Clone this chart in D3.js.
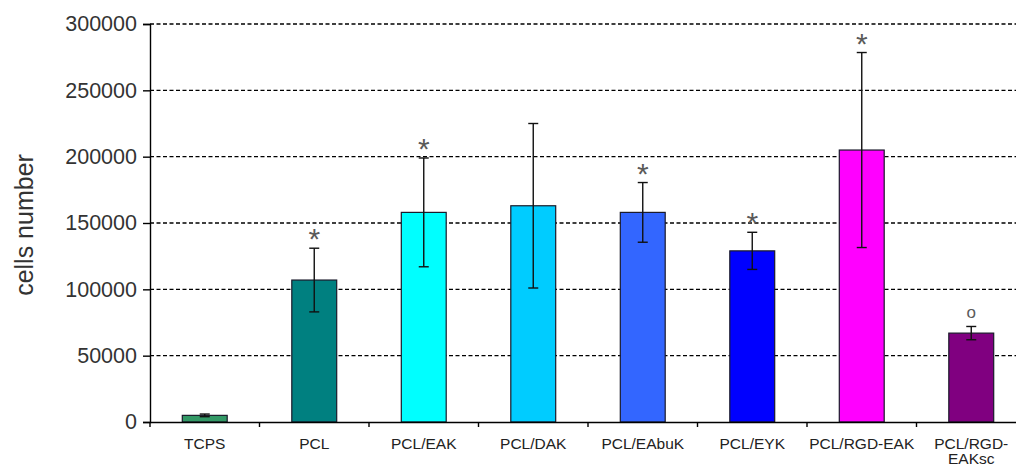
<!DOCTYPE html>
<html>
<head>
<meta charset="utf-8">
<script src="https://cdn.jsdelivr.net/npm/d3@7"></script>
<style>
  html, body { margin: 0; padding: 0; background: #fff; }
  svg { display: block; font-family: "Liberation Sans", Arial, sans-serif; }
</style>
</head>
<body>
<svg id="chart" width="1016" height="467"></svg>
<script>
// Cell counts per substrate (mean ± SD)
const categories = ["TCPS", "PCL", "PCL/EAK", "PCL/DAK", "PCL/EAbuK", "PCL/EYK", "PCL/RGD-EAK", "PCL/RGD-EAKsc"];
const means      = [5000, 107000, 158000, 163000, 158000, 129000, 205000, 67000];
const errors     = [1000, 24000, 41000, 62000, 22500, 14000, 73500, 5000];
const markers    = ["", "*", "*", "", "*", "*", "*", "o"];
const colors     = ["#339966", "#008080", "#00ffff", "#00ccff", "#3366ff", "#0000ff", "#ff00ff", "#800080"];
const yTicks     = [0, 50000, 100000, 150000, 200000, 250000, 300000];

const svg = d3.select("#chart");
const plotLeft = 150, plotRight = 1026, plotTop = 24, plotBottom = 422;

const x = d3.scaleBand().domain(categories).range([plotLeft, plotRight]).paddingInner(0).paddingOuter(0);
const y = d3.scaleLinear().domain([0, 300000]).range([plotBottom, plotTop]);
const barW = x.bandwidth() * 0.41;

// dashed gridlines
svg.append("g")
  .selectAll("line")
  .data(yTicks.filter(d => d > 0))
  .join("line")
  .attr("x1", plotLeft).attr("x2", plotRight)
  .attr("y1", d => y(d)).attr("y2", d => y(d))
  .attr("stroke", "#000").attr("stroke-width", 1.3)
  .attr("stroke-dasharray", "4,2.5");

// bars
svg.append("g")
  .selectAll("rect")
  .data(categories)
  .join("rect")
  .attr("x", d => x(d) + x.bandwidth() / 2 - barW / 2)
  .attr("width", barW)
  .attr("y", (d, i) => y(means[i]))
  .attr("height", (d, i) => y(0) - y(means[i]))
  .attr("fill", (d, i) => colors[i])
  .attr("stroke", "#1a1a2a").attr("stroke-width", 1.2);

// error bars
const eb = svg.append("g").attr("stroke", "#111").attr("stroke-width", 1.4);
categories.forEach((c, i) => {
  const cx = x(c) + x.bandwidth() / 2;
  const hi = y(means[i] + errors[i]), lo = y(means[i] - errors[i]);
  eb.append("line").attr("x1", cx).attr("x2", cx).attr("y1", hi).attr("y2", lo);
  eb.append("line").attr("x1", cx - 5).attr("x2", cx + 5).attr("y1", hi).attr("y2", hi);
  eb.append("line").attr("x1", cx - 5).attr("x2", cx + 5).attr("y1", lo).attr("y2", lo);
});

// significance markers above the error bars
svg.append("g")
  .selectAll("text")
  .data(categories)
  .join("text")
  .attr("x", d => x(d) + x.bandwidth() / 2)
  .attr("y", (d, i) => y(means[i] + errors[i]) + (markers[i] === "o" ? -8 : 1))
  .attr("text-anchor", "middle")
  .attr("fill", "#5a5a5a")
  .attr("font-size", (d, i) => markers[i] === "o" ? 17 : 30)
  .text((d, i) => markers[i]);

// y axis
const yAxis = svg.append("g")
  .attr("transform", `translate(${plotLeft},0)`)
  .call(d3.axisLeft(y).tickValues(yTicks).tickFormat(d3.format("d")).tickSize(7).tickPadding(6));
yAxis.select(".domain").attr("stroke", "#000").attr("stroke-width", 1.4);
yAxis.selectAll(".tick line").attr("stroke", "#000").attr("stroke-width", 1.4);
yAxis.selectAll(".tick text").attr("font-size", 21.5).attr("fill", "#333")
  .attr("font-family", "Liberation Sans, Arial, sans-serif");

// x axis
const xAxis = svg.append("g")
  .attr("transform", `translate(0,${plotBottom})`)
  .call(d3.axisBottom(x).tickSize(0));
xAxis.select(".domain").attr("stroke", "#000").attr("stroke-width", 1.4);
xAxis.selectAll(".tick text").remove();

// category boundary ticks
svg.append("g")
  .selectAll("line")
  .data(categories)
  .join("line")
  .attr("x1", d => x(d)).attr("x2", d => x(d))
  .attr("y1", plotBottom).attr("y2", plotBottom + 5)
  .attr("stroke", "#000").attr("stroke-width", 1.4);

// category labels (long one wraps onto two lines)
const labelLines = c => c === "PCL/RGD-EAKsc" ? ["PCL/RGD-", "EAKsc"] : [c];
const lab = svg.append("g")
  .selectAll("text")
  .data(categories)
  .join("text")
  .attr("x", d => x(d) + x.bandwidth() / 2)
  .attr("y", 449)
  .attr("text-anchor", "middle")
  .attr("font-size", 15.5)
  .attr("fill", "#222");
lab.each(function (d) {
  const t = d3.select(this);
  labelLines(d).forEach((s, k) => {
    t.append("tspan").attr("x", x(d) + x.bandwidth() / 2).attr("dy", k === 0 ? 0 : 15).text(s);
  });
});

// y axis title
svg.append("text")
  .attr("transform", "translate(33,225) rotate(-90)")
  .attr("text-anchor", "middle")
  .attr("font-size", 25)
  .attr("fill", "#333")
  .text("cells number");
</script>
</body>
</html>
